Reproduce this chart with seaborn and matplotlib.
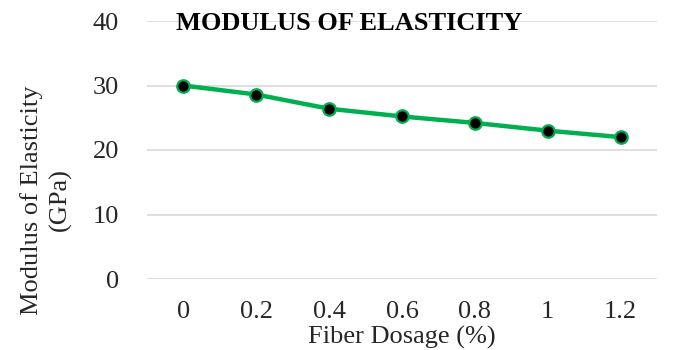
import matplotlib
matplotlib.use("Agg")
import matplotlib.pyplot as plt
import seaborn as sns
import pandas as pd

dosage = ["0", "0.2", "0.4", "0.6", "0.8", "1", "1.2"]
modulus = [30.0, 28.6, 26.4, 25.2, 24.2, 23.0, 22.0]
yticks = [0, 10, 20, 30, 40]

sns.set_theme(style="white")
plt.rcParams['font.family'] = ['Liberation Serif', 'DejaVu Serif']

df = pd.DataFrame({"dosage": dosage, "modulus": modulus})

fig = plt.figure(figsize=(6.78, 3.5), dpi=100)
ax = fig.add_axes([147/678, 1 - 279/350, 510/678, 258/350])

green = "#00B050"
sns.lineplot(data=df, x="dosage", y="modulus", sort=False, ax=ax,
             color=green, linewidth=3.2, marker="o", markersize=9,
             markerfacecolor="black", markeredgecolor=green, markeredgewidth=1.6)

ax.set_xlim(-0.5, len(dosage) - 0.5)
ax.set_ylim(0, 40)
ax.set_yticks(yticks)
ax.set_yticklabels([str(v) for v in yticks])
ax.yaxis.grid(True, color="#D9D9D9", linewidth=1.2)
ax.xaxis.grid(False)
for s in ax.spines.values():
    s.set_visible(False)
ax.tick_params(axis="both", length=0, labelsize=19, colors="#262626")
ax.tick_params(axis="y", pad=20)
ax.tick_params(axis="x", pad=16)
ax.set_xlabel("Fiber Dosage (%)", fontsize=19, color="#262626")
ax.xaxis.set_label_coords(0.5, (279 - 349) / 258, transform=ax.transAxes)
ax.xaxis.label.set_va("bottom")
ax.set_ylabel("Modulus of Elasticity\n(GPa)", fontsize=19, color="#262626", linespacing=1.35)
ax.yaxis.set_label_coords((46 - 147) / 510, (279 - 200) / 258, transform=ax.transAxes)
ax.yaxis.label.set_va("center")

fig.text(349/678, 1 - 23/350, "MODULUS OF ELASTICITY", ha="center", va="center",
         fontsize=19, fontweight="bold", color="black")

fig.savefig("out.png", dpi=100, facecolor="white")
